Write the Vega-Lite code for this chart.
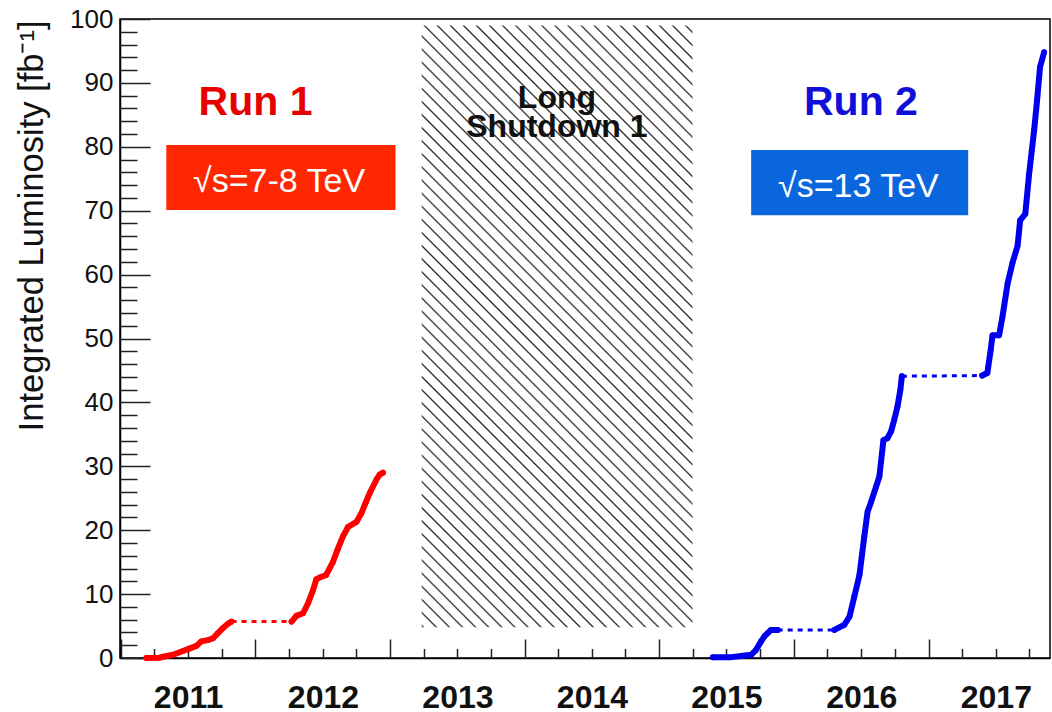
{
  "$schema": "https://vega.github.io/schema/vega-lite/v6.json",
  "width": 930,
  "height": 639,
  "autosize": {"type": "none"},
  "padding": {"left": 120, "top": 19, "right": 2, "bottom": 54},
  "background": "white",
  "config": {
    "font": "Liberation Sans",
    "view": {"stroke": "#000", "strokeWidth": 1.5},
    "axis": {"grid": false}
  },
  "resolve": {"scale": {"x": "independent", "y": "independent"}, "axis": {"x": "independent", "y": "independent"}},
  "datasets": {
    "lumi": [
      {"date": "2011-03-11", "lumi": 0.0, "run": "Run 1", "period": "2011"},
      {"date": "2011-04-16", "lumi": 0.05, "run": "Run 1", "period": "2011"},
      {"date": "2011-04-25", "lumi": 0.2, "run": "Run 1", "period": "2011"},
      {"date": "2011-05-22", "lumi": 0.5, "run": "Run 1", "period": "2011"},
      {"date": "2011-06-18", "lumi": 1.1, "run": "Run 1", "period": "2011"},
      {"date": "2011-07-07", "lumi": 1.5, "run": "Run 1", "period": "2011"},
      {"date": "2011-07-25", "lumi": 1.9, "run": "Run 1", "period": "2011"},
      {"date": "2011-08-07", "lumi": 2.6, "run": "Run 1", "period": "2011"},
      {"date": "2011-08-25", "lumi": 2.8, "run": "Run 1", "period": "2011"},
      {"date": "2011-09-08", "lumi": 3.1, "run": "Run 1", "period": "2011"},
      {"date": "2011-09-21", "lumi": 3.9, "run": "Run 1", "period": "2011"},
      {"date": "2011-10-05", "lumi": 4.7, "run": "Run 1", "period": "2011"},
      {"date": "2011-10-19", "lumi": 5.4, "run": "Run 1", "period": "2011"},
      {"date": "2011-10-28", "lumi": 5.7, "run": "Run 1", "period": "2011"},
      {"date": "2012-04-08", "lumi": 5.7, "run": "Run 1", "period": "2012"},
      {"date": "2012-04-21", "lumi": 6.6, "run": "Run 1", "period": "2012"},
      {"date": "2012-05-09", "lumi": 7.0, "run": "Run 1", "period": "2012"},
      {"date": "2012-05-23", "lumi": 8.6, "run": "Run 1", "period": "2012"},
      {"date": "2012-06-05", "lumi": 10.6, "run": "Run 1", "period": "2012"},
      {"date": "2012-06-14", "lumi": 12.3, "run": "Run 1", "period": "2012"},
      {"date": "2012-06-23", "lumi": 12.6, "run": "Run 1", "period": "2012"},
      {"date": "2012-07-11", "lumi": 13.0, "run": "Run 1", "period": "2012"},
      {"date": "2012-07-29", "lumi": 15.0, "run": "Run 1", "period": "2012"},
      {"date": "2012-08-11", "lumi": 17.0, "run": "Run 1", "period": "2012"},
      {"date": "2012-08-25", "lumi": 19.0, "run": "Run 1", "period": "2012"},
      {"date": "2012-09-08", "lumi": 20.5, "run": "Run 1", "period": "2012"},
      {"date": "2012-10-01", "lumi": 21.3, "run": "Run 1", "period": "2012"},
      {"date": "2012-10-14", "lumi": 22.6, "run": "Run 1", "period": "2012"},
      {"date": "2012-10-26", "lumi": 24.3, "run": "Run 1", "period": "2012"},
      {"date": "2012-11-06", "lumi": 25.8, "run": "Run 1", "period": "2012"},
      {"date": "2012-11-24", "lumi": 27.9, "run": "Run 1", "period": "2012"},
      {"date": "2012-12-03", "lumi": 28.7, "run": "Run 1", "period": "2012"},
      {"date": "2012-12-12", "lumi": 29.0, "run": "Run 1", "period": "2012"},
      {"date": "2015-05-26", "lumi": 0.1, "run": "Run 2", "period": "2015"},
      {"date": "2015-07-10", "lumi": 0.1, "run": "Run 2", "period": "2015"},
      {"date": "2015-08-11", "lumi": 0.3, "run": "Run 2", "period": "2015"},
      {"date": "2015-09-07", "lumi": 0.5, "run": "Run 2", "period": "2015"},
      {"date": "2015-09-20", "lumi": 1.25, "run": "Run 2", "period": "2015"},
      {"date": "2015-10-04", "lumi": 2.6, "run": "Run 2", "period": "2015"},
      {"date": "2015-10-13", "lumi": 3.4, "run": "Run 2", "period": "2015"},
      {"date": "2015-10-22", "lumi": 3.9, "run": "Run 2", "period": "2015"},
      {"date": "2015-10-31", "lumi": 4.4, "run": "Run 2", "period": "2015"},
      {"date": "2015-11-18", "lumi": 4.4, "run": "Run 2", "period": "2015"},
      {"date": "2016-04-20", "lumi": 4.4, "run": "Run 2", "period": "2016"},
      {"date": "2016-05-17", "lumi": 5.2, "run": "Run 2", "period": "2016"},
      {"date": "2016-05-31", "lumi": 6.5, "run": "Run 2", "period": "2016"},
      {"date": "2016-06-13", "lumi": 9.6, "run": "Run 2", "period": "2016"},
      {"date": "2016-06-27", "lumi": 13.0, "run": "Run 2", "period": "2016"},
      {"date": "2016-07-10", "lumi": 19.0, "run": "Run 2", "period": "2016"},
      {"date": "2016-07-19", "lumi": 22.9, "run": "Run 2", "period": "2016"},
      {"date": "2016-07-29", "lumi": 24.5, "run": "Run 2", "period": "2016"},
      {"date": "2016-08-11", "lumi": 26.8, "run": "Run 2", "period": "2016"},
      {"date": "2016-08-20", "lumi": 28.4, "run": "Run 2", "period": "2016"},
      {"date": "2016-08-31", "lumi": 34.1, "run": "Run 2", "period": "2016"},
      {"date": "2016-09-11", "lumi": 34.4, "run": "Run 2", "period": "2016"},
      {"date": "2016-09-21", "lumi": 35.5, "run": "Run 2", "period": "2016"},
      {"date": "2016-09-29", "lumi": 37.2, "run": "Run 2", "period": "2016"},
      {"date": "2016-10-08", "lumi": 39.3, "run": "Run 2", "period": "2016"},
      {"date": "2016-10-16", "lumi": 42.0, "run": "Run 2", "period": "2016"},
      {"date": "2016-10-20", "lumi": 44.1, "run": "Run 2", "period": "2016"},
      {"date": "2017-05-26", "lumi": 44.2, "run": "Run 2", "period": "2017"},
      {"date": "2017-06-09", "lumi": 44.6, "run": "Run 2", "period": "2017"},
      {"date": "2017-06-18", "lumi": 48.2, "run": "Run 2", "period": "2017"},
      {"date": "2017-06-23", "lumi": 50.5, "run": "Run 2", "period": "2017"},
      {"date": "2017-07-11", "lumi": 50.5, "run": "Run 2", "period": "2017"},
      {"date": "2017-07-20", "lumi": 53.4, "run": "Run 2", "period": "2017"},
      {"date": "2017-08-03", "lumi": 58.6, "run": "Run 2", "period": "2017"},
      {"date": "2017-08-16", "lumi": 61.8, "run": "Run 2", "period": "2017"},
      {"date": "2017-08-30", "lumi": 64.5, "run": "Run 2", "period": "2017"},
      {"date": "2017-09-06", "lumi": 68.5, "run": "Run 2", "period": "2017"},
      {"date": "2017-09-20", "lumi": 69.5, "run": "Run 2", "period": "2017"},
      {"date": "2017-09-30", "lumi": 75.6, "run": "Run 2", "period": "2017"},
      {"date": "2017-10-14", "lumi": 82.6, "run": "Run 2", "period": "2017"},
      {"date": "2017-10-22", "lumi": 87.3, "run": "Run 2", "period": "2017"},
      {"date": "2017-10-30", "lumi": 92.5, "run": "Run 2", "period": "2017"},
      {"date": "2017-11-10", "lumi": 94.8, "run": "Run 2", "period": "2017"}
    ],
    "gaps": [
      {"date": "2011-10-28", "lumi": 5.7, "run": "Run 1", "gap": "g1"},
      {"date": "2012-04-08", "lumi": 5.7, "run": "Run 1", "gap": "g1"},
      {"date": "2015-11-18", "lumi": 4.4, "run": "Run 2", "gap": "g2"},
      {"date": "2016-04-20", "lumi": 4.4, "run": "Run 2", "gap": "g2"},
      {"date": "2016-10-20", "lumi": 44.1, "run": "Run 2", "gap": "g3"},
      {"date": "2017-05-26", "lumi": 44.2, "run": "Run 2", "gap": "g3"}
    ]
  },
  "layer": [
    {
      "data": {"values": [{"date": "2013-03-27", "date2": "2015-04-01", "lumi": 4.8, "lumi2": 99.0, "period": "Long Shutdown 1"}]},
      "mark": {
        "type": "rect",
        "strokeWidth": 0,
        "fill": {
          "gradient": "linear",
          "x1": 0, "y1": 1, "x2": 0.5438, "y2": -0.2058,
          "stops": [
            {"offset": 0, "color": "#fff"}, {"offset": 0.002, "color": "#222"}, {"offset": 0.004, "color": "#fff"},
            {"offset": 0.015, "color": "#fff"}, {"offset": 0.017, "color": "#222"}, {"offset": 0.019, "color": "#fff"},
            {"offset": 0.03, "color": "#fff"}, {"offset": 0.032, "color": "#222"}, {"offset": 0.034, "color": "#fff"},
            {"offset": 0.045, "color": "#fff"}, {"offset": 0.047, "color": "#222"}, {"offset": 0.049, "color": "#fff"},
            {"offset": 0.06, "color": "#fff"}, {"offset": 0.062, "color": "#222"}, {"offset": 0.064, "color": "#fff"},
            {"offset": 0.075, "color": "#fff"}, {"offset": 0.077, "color": "#222"}, {"offset": 0.079, "color": "#fff"},
            {"offset": 0.09, "color": "#fff"}, {"offset": 0.092, "color": "#222"}, {"offset": 0.094, "color": "#fff"},
            {"offset": 0.105, "color": "#fff"}, {"offset": 0.107, "color": "#222"}, {"offset": 0.109, "color": "#fff"},
            {"offset": 0.12, "color": "#fff"}, {"offset": 0.122, "color": "#222"}, {"offset": 0.124, "color": "#fff"},
            {"offset": 0.135, "color": "#fff"}, {"offset": 0.137, "color": "#222"}, {"offset": 0.139, "color": "#fff"},
            {"offset": 0.15, "color": "#fff"}, {"offset": 0.152, "color": "#222"}, {"offset": 0.154, "color": "#fff"},
            {"offset": 0.165, "color": "#fff"}, {"offset": 0.167, "color": "#222"}, {"offset": 0.169, "color": "#fff"},
            {"offset": 0.18, "color": "#fff"}, {"offset": 0.182, "color": "#222"}, {"offset": 0.184, "color": "#fff"},
            {"offset": 0.195, "color": "#fff"}, {"offset": 0.197, "color": "#222"}, {"offset": 0.199, "color": "#fff"},
            {"offset": 0.21, "color": "#fff"}, {"offset": 0.212, "color": "#222"}, {"offset": 0.214, "color": "#fff"},
            {"offset": 0.225, "color": "#fff"}, {"offset": 0.227, "color": "#222"}, {"offset": 0.229, "color": "#fff"},
            {"offset": 0.24, "color": "#fff"}, {"offset": 0.242, "color": "#222"}, {"offset": 0.244, "color": "#fff"},
            {"offset": 0.255, "color": "#fff"}, {"offset": 0.257, "color": "#222"}, {"offset": 0.259, "color": "#fff"},
            {"offset": 0.27, "color": "#fff"}, {"offset": 0.272, "color": "#222"}, {"offset": 0.274, "color": "#fff"},
            {"offset": 0.285, "color": "#fff"}, {"offset": 0.287, "color": "#222"}, {"offset": 0.289, "color": "#fff"},
            {"offset": 0.3, "color": "#fff"}, {"offset": 0.302, "color": "#222"}, {"offset": 0.304, "color": "#fff"},
            {"offset": 0.315, "color": "#fff"}, {"offset": 0.317, "color": "#222"}, {"offset": 0.319, "color": "#fff"},
            {"offset": 0.33, "color": "#fff"}, {"offset": 0.332, "color": "#222"}, {"offset": 0.334, "color": "#fff"},
            {"offset": 0.345, "color": "#fff"}, {"offset": 0.347, "color": "#222"}, {"offset": 0.349, "color": "#fff"},
            {"offset": 0.36, "color": "#fff"}, {"offset": 0.362, "color": "#222"}, {"offset": 0.364, "color": "#fff"},
            {"offset": 0.375, "color": "#fff"}, {"offset": 0.377, "color": "#222"}, {"offset": 0.379, "color": "#fff"},
            {"offset": 0.39, "color": "#fff"}, {"offset": 0.392, "color": "#222"}, {"offset": 0.394, "color": "#fff"},
            {"offset": 0.405, "color": "#fff"}, {"offset": 0.407, "color": "#222"}, {"offset": 0.409, "color": "#fff"},
            {"offset": 0.42, "color": "#fff"}, {"offset": 0.422, "color": "#222"}, {"offset": 0.424, "color": "#fff"},
            {"offset": 0.435, "color": "#fff"}, {"offset": 0.437, "color": "#222"}, {"offset": 0.439, "color": "#fff"},
            {"offset": 0.45, "color": "#fff"}, {"offset": 0.452, "color": "#222"}, {"offset": 0.454, "color": "#fff"},
            {"offset": 0.465, "color": "#fff"}, {"offset": 0.467, "color": "#222"}, {"offset": 0.469, "color": "#fff"},
            {"offset": 0.48, "color": "#fff"}, {"offset": 0.482, "color": "#222"}, {"offset": 0.484, "color": "#fff"},
            {"offset": 0.495, "color": "#fff"}, {"offset": 0.497, "color": "#222"}, {"offset": 0.499, "color": "#fff"},
            {"offset": 0.51, "color": "#fff"}, {"offset": 0.512, "color": "#222"}, {"offset": 0.514, "color": "#fff"},
            {"offset": 0.525, "color": "#fff"}, {"offset": 0.527, "color": "#222"}, {"offset": 0.529, "color": "#fff"},
            {"offset": 0.54, "color": "#fff"}, {"offset": 0.542, "color": "#222"}, {"offset": 0.544, "color": "#fff"},
            {"offset": 0.555, "color": "#fff"}, {"offset": 0.557, "color": "#222"}, {"offset": 0.559, "color": "#fff"},
            {"offset": 0.57, "color": "#fff"}, {"offset": 0.572, "color": "#222"}, {"offset": 0.574, "color": "#fff"},
            {"offset": 0.585, "color": "#fff"}, {"offset": 0.587, "color": "#222"}, {"offset": 0.589, "color": "#fff"},
            {"offset": 0.6, "color": "#fff"}, {"offset": 0.602, "color": "#222"}, {"offset": 0.604, "color": "#fff"},
            {"offset": 0.615, "color": "#fff"}, {"offset": 0.617, "color": "#222"}, {"offset": 0.619, "color": "#fff"},
            {"offset": 0.63, "color": "#fff"}, {"offset": 0.632, "color": "#222"}, {"offset": 0.634, "color": "#fff"},
            {"offset": 0.645, "color": "#fff"}, {"offset": 0.647, "color": "#222"}, {"offset": 0.649, "color": "#fff"},
            {"offset": 0.66, "color": "#fff"}, {"offset": 0.662, "color": "#222"}, {"offset": 0.664, "color": "#fff"},
            {"offset": 0.675, "color": "#fff"}, {"offset": 0.677, "color": "#222"}, {"offset": 0.679, "color": "#fff"},
            {"offset": 0.69, "color": "#fff"}, {"offset": 0.692, "color": "#222"}, {"offset": 0.694, "color": "#fff"},
            {"offset": 0.705, "color": "#fff"}, {"offset": 0.707, "color": "#222"}, {"offset": 0.709, "color": "#fff"},
            {"offset": 0.72, "color": "#fff"}, {"offset": 0.722, "color": "#222"}, {"offset": 0.724, "color": "#fff"},
            {"offset": 0.735, "color": "#fff"}, {"offset": 0.737, "color": "#222"}, {"offset": 0.739, "color": "#fff"},
            {"offset": 0.75, "color": "#fff"}, {"offset": 0.752, "color": "#222"}, {"offset": 0.754, "color": "#fff"},
            {"offset": 0.765, "color": "#fff"}, {"offset": 0.767, "color": "#222"}, {"offset": 0.769, "color": "#fff"},
            {"offset": 0.78, "color": "#fff"}, {"offset": 0.782, "color": "#222"}, {"offset": 0.784, "color": "#fff"},
            {"offset": 0.795, "color": "#fff"}, {"offset": 0.797, "color": "#222"}, {"offset": 0.799, "color": "#fff"},
            {"offset": 0.81, "color": "#fff"}, {"offset": 0.812, "color": "#222"}, {"offset": 0.814, "color": "#fff"},
            {"offset": 0.825, "color": "#fff"}, {"offset": 0.827, "color": "#222"}, {"offset": 0.829, "color": "#fff"},
            {"offset": 0.84, "color": "#fff"}, {"offset": 0.842, "color": "#222"}, {"offset": 0.844, "color": "#fff"},
            {"offset": 0.855, "color": "#fff"}, {"offset": 0.857, "color": "#222"}, {"offset": 0.859, "color": "#fff"},
            {"offset": 0.87, "color": "#fff"}, {"offset": 0.872, "color": "#222"}, {"offset": 0.874, "color": "#fff"},
            {"offset": 0.885, "color": "#fff"}, {"offset": 0.887, "color": "#222"}, {"offset": 0.889, "color": "#fff"},
            {"offset": 0.9, "color": "#fff"}, {"offset": 0.902, "color": "#222"}, {"offset": 0.904, "color": "#fff"},
            {"offset": 0.915, "color": "#fff"}, {"offset": 0.917, "color": "#222"}, {"offset": 0.919, "color": "#fff"},
            {"offset": 0.93, "color": "#fff"}, {"offset": 0.932, "color": "#222"}, {"offset": 0.934, "color": "#fff"},
            {"offset": 0.945, "color": "#fff"}, {"offset": 0.947, "color": "#222"}, {"offset": 0.949, "color": "#fff"},
            {"offset": 0.96, "color": "#fff"}, {"offset": 0.962, "color": "#222"}, {"offset": 0.964, "color": "#fff"},
            {"offset": 0.975, "color": "#fff"}, {"offset": 0.977, "color": "#222"}, {"offset": 0.979, "color": "#fff"},
            {"offset": 0.99, "color": "#fff"}, {"offset": 0.992, "color": "#222"}, {"offset": 0.994, "color": "#fff"},
            {"offset": 1, "color": "#fff"}
          ]
        }
      },
      "encoding": {
        "x": {
          "field": "date", "type": "temporal",
          "scale": {"type": "utc", "nice": false, "domain": [{"year": 2010, "month": 12, "date": 29, "hours": 8, "utc": true}, {"year": 2017, "month": 11, "date": 26, "utc": true}]},
          "axis": {
            "orient": "bottom",
            "values": [
              {"year": 2011, "month": 7, "date": 2, "utc": true},
              {"year": 2012, "month": 7, "date": 2, "utc": true},
              {"year": 2013, "month": 7, "date": 2, "utc": true},
              {"year": 2014, "month": 7, "date": 2, "utc": true},
              {"year": 2015, "month": 7, "date": 2, "utc": true},
              {"year": 2016, "month": 7, "date": 2, "utc": true},
              {"year": 2017, "month": 7, "date": 2, "utc": true}
            ],
            "labelExpr": "utcFormat(datum.value, '%Y')",
            "labelFontSize": 32, "labelFontWeight": "bold", "labelColor": "#111",
            "labelBaseline": "alphabetic", "labelAlign": "center", "labelPadding": 49,
            "labelOverlap": false, "labelFlush": false, "labelBound": false,
            "ticks": false, "tickSize": 0,
            "domain": true, "domainColor": "#000", "domainWidth": 1.5,
            "title": null, "grid": false
          }
        },
        "x2": {"field": "date2"},
        "y": {
          "field": "lumi", "type": "quantitative",
          "scale": {"domain": [0, 100], "nice": false, "zero": false},
          "axis": {
            "orient": "left",
            "values": [0, 10, 20, 30, 40, 50, 60, 70, 80, 90, 100],
            "labelFontSize": 26, "labelColor": "#111", "labelPadding": 7,
            "labelOverlap": false, "labelFlush": false, "labelBound": false,
            "ticks": false, "tickSize": 0,
            "domain": true, "domainColor": "#000", "domainWidth": 1.5,
            "title": "Integrated Luminosity [fb⁻¹]",
            "titleFontSize": 34.5, "titleFontWeight": "normal", "titleColor": "#111",
            "titleAngle": -90, "titleAlign": "right", "titleBaseline": "alphabetic",
            "titleX": -78, "titleY": 1,
            "grid": false
          }
        },
        "y2": {"field": "lumi2"}
      }
    },
    {
      "data": {"name": "lumi"},
      "mark": {"type": "line", "strokeWidth": 6, "strokeCap": "round", "strokeJoin": "round"},
      "encoding": {
        "x": {
          "field": "date", "type": "temporal",
          "scale": {"type": "utc", "nice": false, "domain": [{"year": 2010, "month": 12, "date": 29, "hours": 8, "utc": true}, {"year": 2017, "month": 11, "date": 26, "utc": true}]},
          "axis": {
            "orient": "top", "offset": -639,
            "values": [
              {"year": 2011, "month": 1, "date": 1, "utc": true},
              {"year": 2012, "month": 1, "date": 1, "utc": true},
              {"year": 2013, "month": 1, "date": 1, "utc": true},
              {"year": 2014, "month": 1, "date": 1, "utc": true},
              {"year": 2015, "month": 1, "date": 1, "utc": true},
              {"year": 2016, "month": 1, "date": 1, "utc": true},
              {"year": 2017, "month": 1, "date": 1, "utc": true}
            ],
            "labels": false, "domain": false, "ticks": true,
            "tickSize": 19, "tickWidth": 1.5, "tickColor": "#222",
            "title": null, "grid": false
          }
        },
        "y": {
          "field": "lumi", "type": "quantitative",
          "scale": {"domain": [0, 100], "nice": false, "zero": false},
          "axis": {
            "orient": "right", "offset": -930,
            "values": [0, 10, 20, 30, 40, 50, 60, 70, 80, 90, 100],
            "labels": false, "domain": false, "ticks": true,
            "tickSize": 30, "tickWidth": 1.5, "tickColor": "#222",
            "title": null, "grid": false
          }
        },
        "color": {"field": "run", "type": "nominal", "scale": {"domain": ["Run 1", "Run 2"], "range": ["#ff0000", "#0000ee"]}, "legend": null},
        "detail": {"field": "period", "type": "nominal"}
      }
    },
    {
      "data": {"name": "lumi"},
      "mark": {"type": "point", "filled": true, "size": 32, "opacity": 1},
      "encoding": {
        "x": {
          "field": "date", "type": "temporal",
          "scale": {"type": "utc", "nice": false, "domain": [{"year": 2010, "month": 12, "date": 29, "hours": 8, "utc": true}, {"year": 2017, "month": 11, "date": 26, "utc": true}]},
          "axis": {
            "orient": "top", "offset": -639,
            "values": [
              {"year": 2011, "month": 4, "date": 1, "utc": true}, {"year": 2011, "month": 7, "date": 2, "utc": true}, {"year": 2011, "month": 10, "date": 1, "utc": true},
              {"year": 2012, "month": 4, "date": 1, "utc": true}, {"year": 2012, "month": 7, "date": 2, "utc": true}, {"year": 2012, "month": 10, "date": 1, "utc": true},
              {"year": 2013, "month": 4, "date": 1, "utc": true}, {"year": 2013, "month": 7, "date": 2, "utc": true}, {"year": 2013, "month": 10, "date": 1, "utc": true},
              {"year": 2014, "month": 4, "date": 1, "utc": true}, {"year": 2014, "month": 7, "date": 2, "utc": true}, {"year": 2014, "month": 10, "date": 1, "utc": true},
              {"year": 2015, "month": 4, "date": 1, "utc": true}, {"year": 2015, "month": 7, "date": 2, "utc": true}, {"year": 2015, "month": 10, "date": 1, "utc": true},
              {"year": 2016, "month": 4, "date": 1, "utc": true}, {"year": 2016, "month": 7, "date": 2, "utc": true}, {"year": 2016, "month": 10, "date": 1, "utc": true},
              {"year": 2017, "month": 4, "date": 1, "utc": true}, {"year": 2017, "month": 7, "date": 2, "utc": true}, {"year": 2017, "month": 10, "date": 1, "utc": true}
            ],
            "labels": false, "domain": false, "ticks": true,
            "tickSize": 9.5, "tickWidth": 1.5, "tickColor": "#222",
            "title": null, "grid": false
          }
        },
        "y": {
          "field": "lumi", "type": "quantitative",
          "scale": {"domain": [0, 100], "nice": false, "zero": false},
          "axis": {
            "orient": "right", "offset": -930,
            "values": [2, 4, 6, 8, 12, 14, 16, 18, 22, 24, 26, 28, 32, 34, 36, 38, 42, 44, 46, 48, 52, 54, 56, 58, 62, 64, 66, 68, 72, 74, 76, 78, 82, 84, 86, 88, 92, 94, 96, 98],
            "labels": false, "domain": false, "ticks": true,
            "tickSize": 17, "tickWidth": 1.5, "tickColor": "#222",
            "title": null, "grid": false
          }
        },
        "color": {"field": "run", "type": "nominal", "scale": {"domain": ["Run 1", "Run 2"], "range": ["#ff0000", "#0000ee"]}, "legend": null}
      }
    },
    {
      "data": {"name": "gaps"},
      "mark": {"type": "line", "strokeWidth": 3, "strokeDash": [5, 5]},
      "encoding": {
        "x": {"field": "date", "type": "temporal", "scale": {"type": "utc", "nice": false, "domain": [{"year": 2010, "month": 12, "date": 29, "hours": 8, "utc": true}, {"year": 2017, "month": 11, "date": 26, "utc": true}]}, "axis": null},
        "y": {"field": "lumi", "type": "quantitative", "scale": {"domain": [0, 100], "nice": false, "zero": false}, "axis": null},
        "color": {"field": "run", "type": "nominal", "scale": {"domain": ["Run 1", "Run 2"], "range": ["#ff0000", "#0000ee"]}, "legend": null},
        "detail": {"field": "gap", "type": "nominal"}
      }
    },
    {
      "data": {"values": [{"date": "2011-05-04", "date2": "2013-01-15", "lumi": 70.1, "lumi2": 80.3}]},
      "mark": {"type": "rect", "fill": "#ff2600", "strokeWidth": 0},
      "encoding": {
        "x": {"field": "date", "type": "temporal", "scale": {"type": "utc", "nice": false, "domain": [{"year": 2010, "month": 12, "date": 29, "hours": 8, "utc": true}, {"year": 2017, "month": 11, "date": 26, "utc": true}]}, "axis": null},
        "x2": {"field": "date2"},
        "y": {"field": "lumi", "type": "quantitative", "scale": {"domain": [0, 100], "nice": false, "zero": false}, "axis": null},
        "y2": {"field": "lumi2"}
      }
    },
    {
      "data": {"values": [{"date": "2015-09-07", "date2": "2017-04-18", "lumi": 69.3, "lumi2": 79.5}]},
      "mark": {"type": "rect", "fill": "#0a66dd", "strokeWidth": 0},
      "encoding": {
        "x": {"field": "date", "type": "temporal", "scale": {"type": "utc", "nice": false, "domain": [{"year": 2010, "month": 12, "date": 29, "hours": 8, "utc": true}, {"year": 2017, "month": 11, "date": 26, "utc": true}]}, "axis": null},
        "x2": {"field": "date2"},
        "y": {"field": "lumi", "type": "quantitative", "scale": {"domain": [0, 100], "nice": false, "zero": false}, "axis": null},
        "y2": {"field": "lumi2"}
      }
    },
    {
      "data": {"values": [
        {"date": "2012-03-05", "lumi": 73.0, "label": "√s=7-8 TeV"},
        {"date": "2016-06-24", "lumi": 72.2, "label": "√s=13 TeV"}
      ]},
      "mark": {"type": "text", "fontSize": 34, "color": "#ffffff", "align": "center", "baseline": "alphabetic"},
      "encoding": {
        "x": {"field": "date", "type": "temporal", "scale": {"type": "utc", "nice": false, "domain": [{"year": 2010, "month": 12, "date": 29, "hours": 8, "utc": true}, {"year": 2017, "month": 11, "date": 26, "utc": true}]}, "axis": null},
        "y": {"field": "lumi", "type": "quantitative", "scale": {"domain": [0, 100], "nice": false, "zero": false}, "axis": null},
        "text": {"field": "label", "type": "nominal"}
      }
    },
    {
      "data": {"values": [{"date": "2012-01-01", "lumi": 85.0, "label": "Run 1"}]},
      "mark": {"type": "text", "fontSize": 41, "fontWeight": "bold", "color": "#e60000", "align": "center", "baseline": "alphabetic"},
      "encoding": {
        "x": {"field": "date", "type": "temporal", "scale": {"type": "utc", "nice": false, "domain": [{"year": 2010, "month": 12, "date": 29, "hours": 8, "utc": true}, {"year": 2017, "month": 11, "date": 26, "utc": true}]}, "axis": null},
        "y": {"field": "lumi", "type": "quantitative", "scale": {"domain": [0, 100], "nice": false, "zero": false}, "axis": null},
        "text": {"field": "label", "type": "nominal"}
      }
    },
    {
      "data": {"values": [{"date": "2016-07-01", "lumi": 85.0, "label": "Run 2"}]},
      "mark": {"type": "text", "fontSize": 41, "fontWeight": "bold", "color": "#1010d8", "align": "center", "baseline": "alphabetic"},
      "encoding": {
        "x": {"field": "date", "type": "temporal", "scale": {"type": "utc", "nice": false, "domain": [{"year": 2010, "month": 12, "date": 29, "hours": 8, "utc": true}, {"year": 2017, "month": 11, "date": 26, "utc": true}]}, "axis": null},
        "y": {"field": "lumi", "type": "quantitative", "scale": {"domain": [0, 100], "nice": false, "zero": false}, "axis": null},
        "text": {"field": "label", "type": "nominal"}
      }
    },
    {
      "data": {"values": [{"date": "2014-03-29", "lumi": 86.1}]},
      "mark": {"type": "text", "text": ["Long", "Shutdown 1"], "lineHeight": 29, "fontSize": 32, "fontWeight": "bold", "color": "#111", "align": "center", "baseline": "alphabetic"},
      "encoding": {
        "x": {"field": "date", "type": "temporal", "scale": {"type": "utc", "nice": false, "domain": [{"year": 2010, "month": 12, "date": 29, "hours": 8, "utc": true}, {"year": 2017, "month": 11, "date": 26, "utc": true}]}, "axis": null},
        "y": {"field": "lumi", "type": "quantitative", "scale": {"domain": [0, 100], "nice": false, "zero": false}, "axis": null}
      }
    }
  ]
}
